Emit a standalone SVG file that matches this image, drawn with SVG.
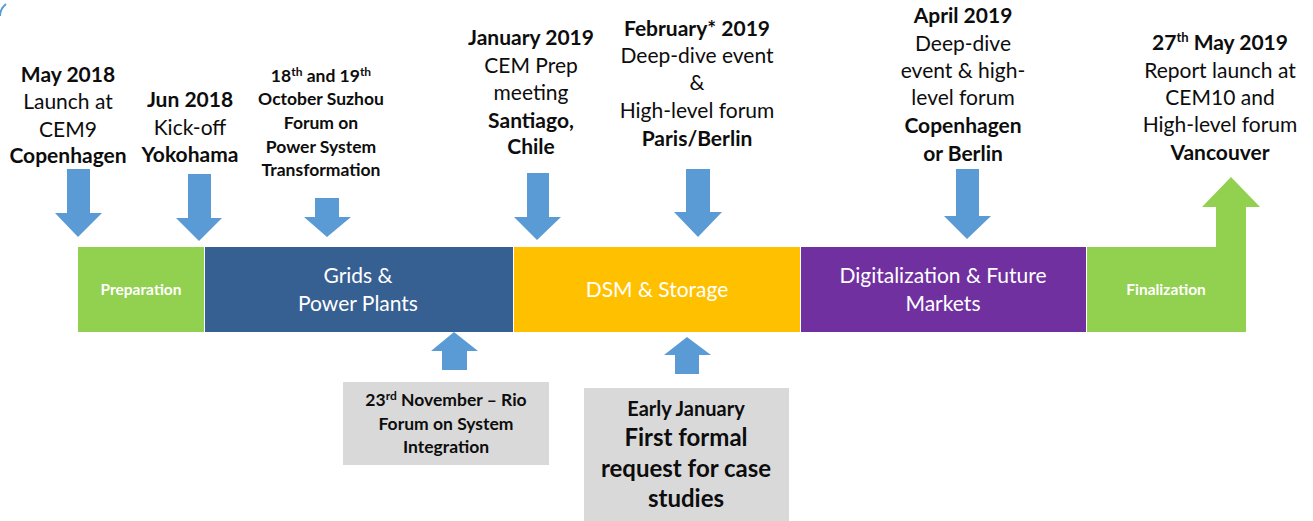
<svg xmlns="http://www.w3.org/2000/svg" width="1313" height="521" viewBox="0 0 1313 521">
<style>
text{font-family:Lato,"Open Sans","Liberation Sans",sans-serif;text-anchor:middle;fill:#0d0d0d}
.b{font-weight:bold}
.t20{font-size:21px}
.t16{font-size:17.5px}
.w{fill:#ffffff}
.arr{fill:#5b9bd5}
.gray{fill:#d9d9d9}
.sup{font-size:12px}
</style>
<rect width="1313" height="521" fill="#ffffff"/>
<path d="M0,16 A16,16 0 0 1 6,4" fill="none" stroke="#5b9bd5" stroke-width="2"/>
<g id="bar">
<g id="preparation"><rect x="78" y="247" width="126" height="85" fill="#92d050"/><text x="141" y="295" class="b w" style="font-size:15.5px">Preparation</text></g>
<g id="grids"><rect x="205" y="247" width="308" height="85" fill="#376092"/><text x="358" y="283" class="t20 w">Grids &amp;</text><text x="358" y="311" class="t20 w">Power Plants</text></g>
<g id="dsm"><rect x="514" y="247" width="286" height="85" fill="#ffc000"/><text x="657" y="297" class="t20 w">DSM &amp; Storage</text></g>
<g id="digital"><rect x="801" y="247" width="285" height="85" fill="#7030a0"/><text x="943" y="283" class="t20 w">Digitalization &amp; Future</text><text x="943" y="311" class="t20 w">Markets</text></g>
<g id="finalization"><rect x="1087" y="247" width="159" height="85" fill="#92d050"/><path d="M1216,248 V207 H1202 L1231,177 L1260,207 H1246 V248 Z" fill="#92d050"/><text x="1166" y="295" class="b w" style="font-size:15.5px">Finalization</text></g>
</g>
<g id="connectors">
<path class="arr" d="M67,169 H90 V213 H102 L78,237 L55,213 H67 Z"/>
<path class="arr" d="M188,174 H211 V218 H222 L199,241 L176,218 H188 Z"/>
<path class="arr" d="M315,198 H339 V217 H351 L327,237 L304,217 H315 Z"/>
<path class="arr" d="M527,173 H549 V217 H561 L537,240 L514,217 H527 Z"/>
<path class="arr" d="M686,169 H710 V212 H722 L698,237 L674,212 H686 Z"/>
<path class="arr" d="M956,169 H979 V216 H991 L967,239 L944,216 H956 Z"/>
<path class="arr" d="M442,370 H467 V351 H478 L454,332 L431,351 H442 Z"/>
<path class="arr" d="M675,374 H699 V355 H711 L687,337 L664,355 H675 Z"/>
</g>
<g id="may2018">
<text x="68" y="82" class="b t20">May 2018</text>
<text x="68" y="109" class="t20">Launch at</text>
<text x="68" y="137" class="t20">CEM9</text>
<text x="68" y="163" class="b t20">Copenhagen</text>
</g>
<g id="jun2018">
<text x="190" y="107" class="b t20">Jun 2018</text>
<text x="190" y="135" class="t20">Kick-off</text>
<text x="190" y="162" class="b t20">Yokohama</text>
</g>
<g id="oct2018">
<text x="321" y="82" class="b t16">18<tspan class="sup" dy="-6">th</tspan><tspan dy="6"> and 19</tspan><tspan class="sup" dy="-6">th</tspan></text>
<text x="321" y="105" class="b t16">October Suzhou</text>
<text x="321" y="129" class="b t16">Forum on</text>
<text x="321" y="153" class="b t16">Power System</text>
<text x="321" y="176" class="b t16">Transformation</text>
</g>
<g id="jan2019">
<text x="531" y="45" class="b t20">January 2019</text>
<text x="531" y="73" class="t20">CEM Prep</text>
<text x="531" y="100" class="t20">meeting</text>
<text x="531" y="128" class="b t20">Santiago,</text>
<text x="531" y="154" class="b t20">Chile</text>
</g>
<g id="feb2019">
<text x="697" y="36" class="b t20">February* 2019</text>
<text x="697" y="63" class="t20">Deep-dive event</text>
<text x="697" y="90" class="t20">&amp;</text>
<text x="697" y="118" class="t20">High-level forum</text>
<text x="697" y="146" class="b t20">Paris/Berlin</text>
</g>
<g id="apr2019">
<text x="963" y="23" class="b t20">April 2019</text>
<text x="963" y="51" class="t20">Deep-dive</text>
<text x="963" y="78" class="t20">event &amp; high-</text>
<text x="963" y="105" class="t20">level forum</text>
<text x="963" y="133" class="b t20">Copenhagen</text>
<text x="963" y="161" class="b t20">or Berlin</text>
</g>
<g id="may2019">
<text x="1220" y="50" class="b t20">27<tspan style="font-size:13px" dy="-8">th</tspan><tspan dy="8"> May 2019</tspan></text>
<text x="1220" y="78" class="t20">Report launch at</text>
<text x="1220" y="105" class="t20">CEM10 and</text>
<text x="1220" y="132" class="t20">High-level forum</text>
<text x="1220" y="160" class="b t20">Vancouver</text>
</g>
<g id="nov2018">
<rect class="gray" x="343" y="382" width="206" height="83"/>
<text x="446" y="406" class="b t16">23<tspan class="sup" dy="-6">rd</tspan><tspan dy="6"> November – Rio</tspan></text>
<text x="446" y="430" class="b t16">Forum on System</text>
<text x="446" y="453" class="b t16">Integration</text>
</g>
<g id="earlyjan">
<rect class="gray" x="584" y="388" width="205" height="140"/>
<text x="686" y="416" class="b" style="font-size:20px">Early January</text>
<text x="686" y="446" class="b" style="font-size:24px">First formal</text>
<text x="686" y="477" class="b" style="font-size:24px">request for case</text>
<text x="686" y="507" class="b" style="font-size:24px">studies</text>
</g>
</svg>
